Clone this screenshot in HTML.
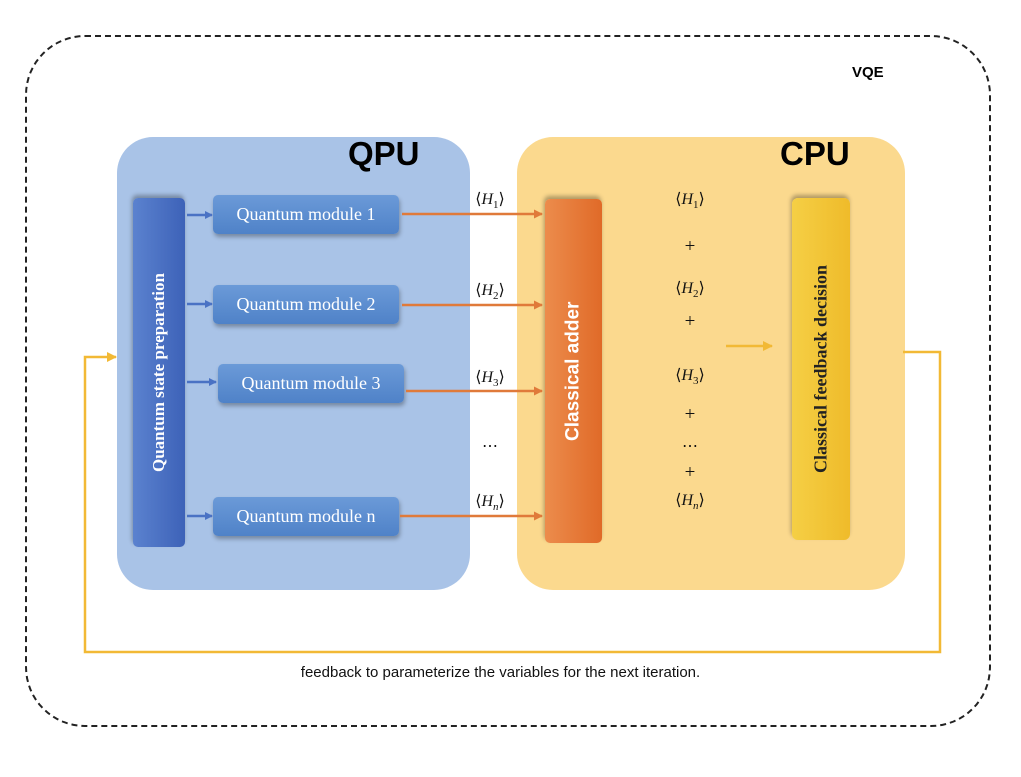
<!DOCTYPE html>
<html><head><meta charset="utf-8"><style>
body{margin:0;background:#fff;width:1021px;height:777px;overflow:hidden;position:relative;font-family:"Liberation Sans",sans-serif}
.abs{position:absolute}
.mod{position:absolute;height:39px;width:186px;border-radius:5px;background:linear-gradient(#6b9ad8,#4f82c8);box-shadow:1px 3px 4px rgba(0,0,0,.3);color:#fff;font-family:"Liberation Serif",serif;font-size:18px;line-height:39px;text-align:center}
.m{position:absolute;font-family:"Liberation Serif",serif;font-size:16px;color:#111;text-align:center;width:60px}
.vt{position:absolute;writing-mode:vertical-rl;transform:rotate(180deg);display:flex;align-items:center;justify-content:center}
</style></head><body>
<div class="abs" style="left:25px;top:35px;width:962px;height:688px;border:2px dashed #222;border-radius:60px"></div>
<div class="abs" style="left:852px;top:64px;font-weight:bold;font-size:15px">VQE</div>
<div class="abs" style="left:117px;top:137px;width:353px;height:453px;background:#a9c3e7;border-radius:36px"></div>
<div class="abs" style="left:517px;top:137px;width:388px;height:453px;background:#fbd98e;border-radius:36px"></div>
<div class="abs" style="left:348px;top:135px;font-weight:bold;font-size:33px">QPU</div>
<div class="abs" style="left:780px;top:135px;font-weight:bold;font-size:33px">CPU</div>
<div class="vt" style="left:133px;top:198px;width:52px;height:349px;border-radius:5px;background:linear-gradient(90deg,#3d62b8,#5b82cf);box-shadow:1px 3px 4px rgba(0,0,0,.3);color:#fff;font-family:'Liberation Serif',serif;font-weight:bold;font-size:17px">Quantum state preparation</div>
<div class="mod" style="left:213px;top:195px">Quantum module 1</div>
<div class="mod" style="left:213px;top:285px">Quantum module 2</div>
<div class="mod" style="left:218px;top:364px">Quantum module 3</div>
<div class="mod" style="left:213px;top:497px">Quantum module n</div>
<div class="vt" style="left:545px;top:199px;width:57px;height:344px;border-radius:5px;background:linear-gradient(90deg,#e06a28,#ec8c4c);box-shadow:1px 3px 4px rgba(0,0,0,.3);color:#fff;font-weight:bold;font-size:19px">Classical adder</div>
<div class="vt" style="left:792px;top:198px;width:58px;height:342px;border-radius:6px;background:linear-gradient(90deg,#efbb2a,#f5cf45);box-shadow:1px 3px 4px rgba(0,0,0,.3);color:#222;font-family:'Liberation Serif',serif;font-weight:bold;font-size:18px">Classical feedback decision</div>
<svg class="abs" style="left:0;top:0" width="1021" height="777">
<defs>
<marker id="b" markerWidth="8" markerHeight="8" refX="7" refY="4" orient="auto" markerUnits="userSpaceOnUse"><path d="M0,0L8,4L0,8z" fill="#4a72c4"/></marker>
<marker id="o" markerWidth="9" markerHeight="9" refX="8" refY="4.5" orient="auto" markerUnits="userSpaceOnUse"><path d="M0,0L9,4.5L0,9z" fill="#e07a3a"/></marker>
<marker id="y" markerWidth="10" markerHeight="10" refX="9" refY="5" orient="auto" markerUnits="userSpaceOnUse"><path d="M0,0L10,5L0,10z" fill="#f2b935"/></marker>
</defs>
<g stroke="#4a72c4" stroke-width="2.5" marker-end="url(#b)">
<line x1="187" y1="215" x2="212" y2="215"/><line x1="187" y1="304" x2="212" y2="304"/><line x1="187" y1="382" x2="216" y2="382"/><line x1="187" y1="516" x2="212" y2="516"/></g>
<g stroke="#e07a3a" stroke-width="2.5" marker-end="url(#o)">
<line x1="402" y1="214" x2="542" y2="214"/><line x1="402" y1="305" x2="542" y2="305"/><line x1="406" y1="391" x2="542" y2="391"/><line x1="400" y1="516" x2="542" y2="516"/></g>
<line x1="726" y1="346" x2="772" y2="346" stroke="#f2b935" stroke-width="2.5" marker-end="url(#y)"/>
<polyline points="903,352 940,352 940,652 85,652 85,357 116,357" fill="none" stroke="#f2b935" stroke-width="2.5" marker-end="url(#y)"/>
</svg>
<div class="m" style="left:460px;top:189px">⟨<i>H</i><sub style="font-size:11px">1</sub>⟩</div>
<div class="m" style="left:460px;top:280px">⟨<i>H</i><sub style="font-size:11px">2</sub>⟩</div>
<div class="m" style="left:460px;top:367px">⟨<i>H</i><sub style="font-size:11px">3</sub>⟩</div>
<div class="m" style="left:460px;top:436px">⋯</div>
<div class="m" style="left:460px;top:491px">⟨<i>H</i><sub style="font-size:11px"><i>n</i></sub>⟩</div>
<div class="m" style="left:660px;top:189px">⟨<i>H</i><sub style="font-size:11px">1</sub>⟩</div>
<div class="m" style="left:660px;top:236px;font-size:19px">+</div>
<div class="m" style="left:660px;top:278px">⟨<i>H</i><sub style="font-size:11px">2</sub>⟩</div>
<div class="m" style="left:660px;top:311px;font-size:19px">+</div>
<div class="m" style="left:660px;top:365px">⟨<i>H</i><sub style="font-size:11px">3</sub>⟩</div>
<div class="m" style="left:660px;top:404px;font-size:19px">+</div>
<div class="m" style="left:660px;top:436px">⋯</div>
<div class="m" style="left:660px;top:462px;font-size:19px">+</div>
<div class="m" style="left:660px;top:490px">⟨<i>H</i><sub style="font-size:11px"><i>n</i></sub>⟩</div>
<div class="abs" style="left:0;width:1001px;top:664px;text-align:center;font-size:15px;color:#111">feedback to parameterize the variables for the next iteration.</div>
</body></html>
